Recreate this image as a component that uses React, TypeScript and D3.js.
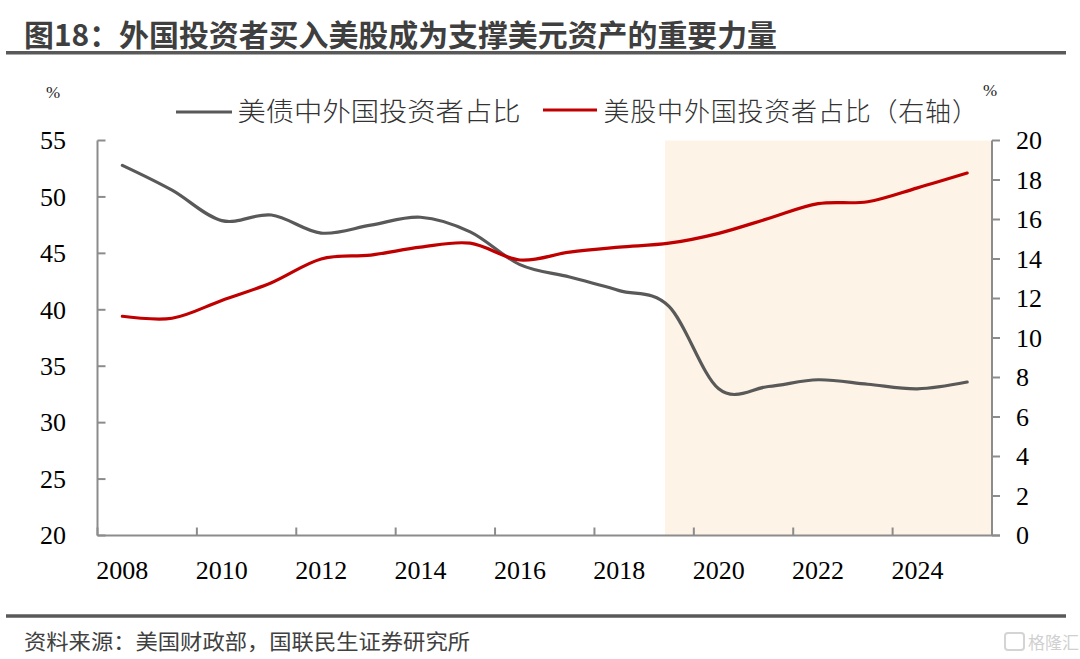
import React from "react";
import * as d3 from "d3";

const years = [2008, 2009, 2010, 2011, 2012, 2013, 2014, 2015, 2016, 2017, 2018, 2019, 2020, 2021, 2022, 2023, 2024, 2025];
const treasuryShare = [52.8, 50.6, 47.9, 48.4, 46.8, 47.5, 48.2, 46.9, 44.0, 42.9, 41.7, 40.3, 33.0, 33.2, 33.8, 33.4, 33.0, 33.6];
const equityShare = [11.1, 11.0, 11.9, 12.8, 14.0, 14.2, 14.6, 14.8, 13.95, 14.35, 14.6, 14.8, 15.3, 16.05, 16.8, 16.9, 17.6, 18.35];
const leftTicks = [20, 25, 30, 35, 40, 45, 50, 55];
const rightTicks = [0, 2, 4, 6, 8, 10, 12, 14, 16, 18, 20];
const xLabelYears = [2008, 2010, 2012, 2014, 2016, 2018, 2020, 2022, 2024];
const xTickYears = [2008, 2010, 2012, 2014, 2016, 2018, 2020, 2022, 2024, 2026];
const shadeStart = 2019.42;
const shadeEnd = 2026;

const title = "图18：外国投资者买入美股成为支撑美元资产的重要力量";
const legend1 = "美债中外国投资者占比";
const legend2 = "美股中外国投资者占比（右轴）";
const source = "资料来源：美国财政部，国联民生证券研究所";

export default function App() {
  const left = 97.5, right = 992, top = 140.5, bottom = 535.5;
  const x = d3.scaleLinear().domain([2008, 2026]).range([left, right]);
  const yL = d3.scaleLinear().domain([20, 55]).range([bottom, top]);
  const yR = d3.scaleLinear().domain([0, 20]).range([bottom, top]);

  const lineL = d3.line<number>()
    .x((_, i) => x(years[i] + 0.5))
    .y((d) => yL(d))
    .curve(d3.curveCardinal.tension(0));
  const lineR = d3.line<number>()
    .x((_, i) => x(years[i] + 0.5))
    .y((d) => yR(d))
    .curve(d3.curveCardinal.tension(0));

  const axisColor = "#8c8c8c";
  const serif = "'Liberation Serif', 'Times New Roman', serif";
  const cjk = "'Noto Sans CJK SC', sans-serif";

  return (
    <svg width={1080} height={659} style={{ position: "absolute", left: 0, top: 0 }}>
      <rect x={0} y={0} width={1080} height={659} fill="#ffffff" />
      {/* Title */}
      <text x={24} y={46} fontFamily={cjk} fontWeight={700} fontSize={30} fill="#3f3f3f" textLength={753} lengthAdjust="spacingAndGlyphs">
        {title}
      </text>
      <line x1={6} x2={1066} y1={52.7} y2={52.7} stroke="#595959" strokeWidth={3.5} />

      {/* shaded region */}
      <rect x={x(shadeStart)} y={top} width={x(shadeEnd) - x(shadeStart)} height={bottom - top} fill="#fdf4e7" />

      {/* units */}
      <text x={53} y={98} textAnchor="middle" fontFamily={serif} fontSize={17} fill="#222">%</text>
      <text x={983} y={96} fontFamily={serif} fontSize={17} fill="#222">%</text>

      {/* legend */}
      <line x1={176} x2={232} y1={112} y2={112} stroke="#595959" strokeWidth={3.2} />
      <text x={237.5} y={121} fontFamily={cjk} fontWeight={300} fontSize={26} fill="#333" textLength={283} lengthAdjust="spacingAndGlyphs">
        {legend1}
      </text>
      <line x1={543} x2={597} y1={110} y2={110} stroke="#c00000" strokeWidth={3.2} />
      <text x={603.5} y={121} fontFamily={cjk} fontWeight={300} fontSize={26} fill="#333" letterSpacing={0.8}>
        {legend2}
      </text>

      {/* axes */}
      <g stroke={axisColor} strokeWidth={2} fill="none">
        <line x1={left} x2={left} y1={top} y2={bottom} />
        <line x1={right} x2={right} y1={top} y2={bottom} />
        <line x1={left} x2={right + 8} y1={bottom} y2={bottom} />
        {leftTicks.map((t) => (
          <line key={"lt" + t} x1={left} x2={left + 8} y1={yL(t)} y2={yL(t)} />
        ))}
        {rightTicks.map((t) => (
          <line key={"rt" + t} x1={right} x2={right + 8} y1={yR(t)} y2={yR(t)} />
        ))}
        {xTickYears.map((t) => (
          <line key={"xt" + t} x1={x(t)} x2={x(t)} y1={bottom} y2={bottom - 8} />
        ))}
      </g>

      {/* tick labels */}
      {leftTicks.map((t) => (
        <text key={"ll" + t} x={66} y={yL(t)} dy="0.34em" textAnchor="end" fontFamily={serif} fontSize={26} fill="#000">
          {t}
        </text>
      ))}
      {rightTicks.map((t) => (
        <text key={"rl" + t} x={1016} y={yR(t)} dy="0.34em" textAnchor="start" fontFamily={serif} fontSize={26} fill="#000">
          {t}
        </text>
      ))}
      {xLabelYears.map((t) => (
        <text key={"xl" + t} x={x(t + 0.5)} y={579} textAnchor="middle" fontFamily={serif} fontSize={26} fill="#000">
          {t}
        </text>
      ))}

      {/* lines */}
      <path d={lineL(treasuryShare) || ""} fill="none" stroke="#595959" strokeWidth={3.2} strokeLinejoin="round" strokeLinecap="round" />
      <path d={lineR(equityShare) || ""} fill="none" stroke="#c00000" strokeWidth={3.2} strokeLinejoin="round" strokeLinecap="round" />

      {/* bottom */}
      <line x1={6} x2={1066} y1={616} y2={616} stroke="#595959" strokeWidth={3.5} />
      <text x={24} y={649} fontFamily={cjk} fontSize={21} fill="#404040" textLength={446} lengthAdjust="spacingAndGlyphs">
        {source}
      </text>

      {/* watermark */}
      <rect x={1005} y={633} width={19} height={17} rx={3} fill="none" stroke="#d4d4d4" strokeWidth={2} />
      <text x={1028} y={649} fontFamily={cjk} fontSize={17} fill="#d0d0d0">格隆汇</text>
    </svg>
  );
}
